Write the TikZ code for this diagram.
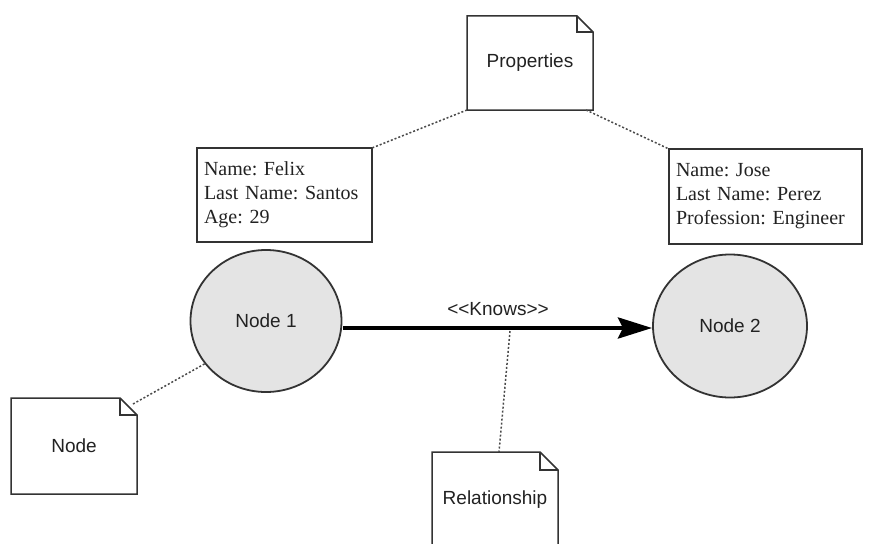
\documentclass[tikz,border=0pt]{standalone}
\usepackage{fontspec}
\setmainfont{Liberation Serif}
\setsansfont{Liberation Sans}
\frenchspacing
\usetikzlibrary{arrows.meta,shapes.geometric}
\definecolor{linec}{HTML}{333333}
\definecolor{textc}{HTML}{222222}
\definecolor{ellfill}{HTML}{E4E4E4}
\definecolor{dotc}{HTML}{4A4A4A}
\tikzset{
  notebox/.style={rectangle, draw=none, inner sep=0pt, outer sep=0pt,
    font=\sffamily\fontsize{19}{23}\selectfont, text=textc},
  notedraw/.style={draw=linec, line width=1.5pt, line join=miter, fill=white},
  propbox/.style={rectangle, draw=linec, line width=1.5pt, fill=white, inner sep=7pt,
    align=left, font=\rmfamily\fontsize{20}{24}\selectfont, text=textc, outer sep=0pt},
  graphnode/.style={ellipse, draw=linec, line width=1.8pt, fill=ellfill, inner sep=0pt,
    font=\sffamily\fontsize{19}{23}\selectfont, text=textc, outer sep=0pt},
  dotline/.style={draw=dotc, line width=1.5pt, dash pattern=on 2pt off 2pt},
  relarrow/.style={draw=black, line width=4pt, -{Stealth[length=34pt,width=21pt,inset=5pt]}},
}
\newcommand{\mynote}[2]{%
  \draw[notedraw] (#1.south west) -- (#1.north west) -- ([xshift=-#2]#1.north east)
    -- ([yshift=-#2]#1.north east) -- (#1.south east) -- cycle;
  \draw[notedraw, fill=none, line width=1.1pt] ([xshift=-#2]#1.north east)
    -- ([xshift=-#2,yshift=-#2]#1.north east) -- ([yshift=-#2]#1.north east);
}
\begin{document}
\begin{tikzpicture}[x=1pt,y=-1pt]
\useasboundingbox (0,0) rectangle (877,543);
\clip (0,0) rectangle (877,543);
\fill[white] (0,0) rectangle (877,543);

% notes
\node[notebox, minimum width=126pt, minimum height=94pt] (props) at (530,63) {};
\mynote{props}{16pt}
\node[notebox] (propst) at (props.center) {Properties};

\node[notebox, minimum width=126pt, minimum height=96pt] (nnote) at (74,446) {};
\mynote{nnote}{17pt}
\node[notebox] (nnotet) at (nnote.center) {Node};

\node[notebox, minimum width=126pt, minimum height=96pt] (rnote) at (495,500) {};
\mynote{rnote}{18pt}
\node[notebox] (rnotet) at (rnote.center) {Relationship};

% property boxes
\node[propbox, minimum width=175pt, minimum height=94pt, text width=161pt] (felix) at (284.5,195)
  {Name: Felix\\Last Name: Santos\\Age: 29};
\node[propbox, minimum width=193pt, minimum height=95pt, text width=179pt] (jose) at (765.5,196.5)
  {Name: Jose\\Last Name: Perez\\Profession: Engineer};

% graph nodes
\node[graphnode, minimum width=151pt, minimum height=142pt] (n1) at (266,321) {Node 1};
\node[graphnode, minimum width=154pt, minimum height=143pt] (n2) at (730,326) {Node 2};

% relationship arrow
\coordinate (a1) at (343,328);
\coordinate (a2) at (652,328);
\draw[relarrow] (a1) -- (a2);
\node[font=\sffamily\fontsize{19}{23}\selectfont, text=textc, inner sep=0pt] (knows) at (498,309) {<{}<Knows>{}>};
\coordinate (mid) at (510,331);

% dotted connectors
\draw[dotline] (props.south west) -- (felix.north east);
\draw[dotline] ([xshift=-7pt]props.south east) -- (jose.north west);
\draw[dotline] ([xshift=-4pt,yshift=-6pt]nnote.north east) -- (n1.-145);
\draw[dotline] (mid) -- ([xshift=4pt]rnote.north);
\end{tikzpicture}
\end{document}
